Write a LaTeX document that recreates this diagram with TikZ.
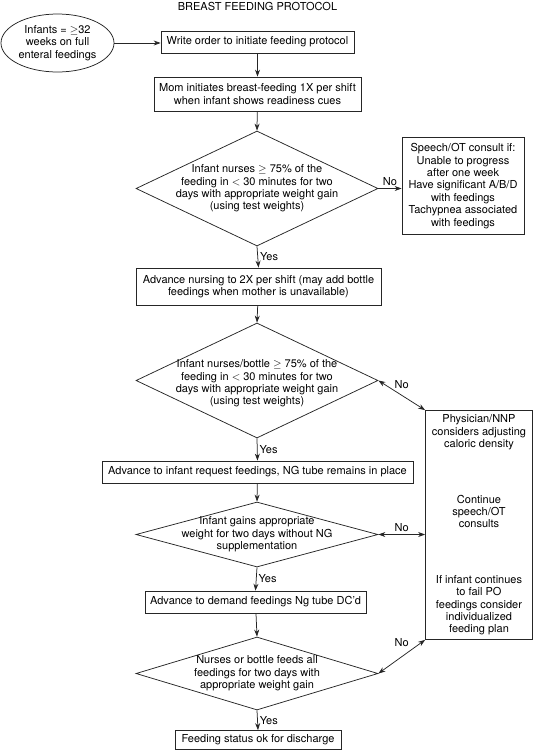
\documentclass[tikz,border=0pt]{standalone}
\usepackage{fontspec}
\setmainfont{TeX Gyre Heros}
\usetikzlibrary{arrows.meta, shapes.geometric}

\begin{document}
\begin{tikzpicture}[x=1pt, y=-1pt, >={Stealth[length=7pt,width=5pt]},
    font=\fontsize{11}{12.4}\selectfont, line width=0.75pt, draw=black!85,
    box/.style={draw, align=center, inner sep=2pt},
    decision/.style={draw, diamond, inner sep=0pt, minimum width=242pt},
    dectext/.style={align=center, inner sep=0pt},
    lbl/.style={inner sep=2pt}]

    \useasboundingbox (0,0) rectangle (534,750);

    % ==========================================================
    % main column
    % ==========================================================
    \node (title) at (257.5,6) {BREAST FEEDING PROTOCOL};

    \node[draw, ellipse, align=center, minimum width=113pt, minimum height=58pt, inner sep=0pt]
        (infants) at (57.5,43) {Infants = $\geq$32\\weeks on full\\enteral feedings};

    \node[box, minimum width=193pt, minimum height=22pt] (order) at (257.5,42)
        {Write order to initiate feeding protocol};
    \node[box, minimum width=207pt, minimum height=34pt] (mom) at (257.5,94)
        {Mom initiates breast-feeding 1X per shift\\when infant shows readiness cues};

    \node[decision, minimum height=115pt,
          label={[dectext]center:{Infant nurses $\geq$ 75\% of the\\feeding in $<$ 30 minutes for two\\days with appropriate weight gain\\(using test weights)}}]
        (nurse1) at (257,188.5) {};

    \node[box, minimum width=245pt, minimum height=37pt] (twice) at (258.5,286.5)
        {Advance nursing to 2X per shift (may add bottle\\feedings when mother is unavailable)};

    \node[decision, minimum height=115pt,
          label={[dectext, yshift=-3pt]center:{Infant nurses/bottle $\geq$ 75\% of the\\feeding in $<$ 30 minutes for two\\days with appropriate weight gain\\(using test weights)}}]
        (nurse2) at (257,380.5) {};

    \node[box, minimum width=311pt, minimum height=22pt] (request) at (257.5,472)
        {Advance to infant request feedings, NG tube remains in place};

    \node[decision, minimum height=65pt,
          label={[dectext]center:{Infant gains appropriate\\weight for two days without NG\\supplementation}}]
        (gains) at (257,534.5) {};

    \node[box, minimum width=221pt, minimum height=22pt] (demand) at (255.5,602)
        {Advance to demand feedings Ng tube DC'd};

    \node[decision, minimum height=73pt,
          label={[dectext]center:{Nurses or bottle feeds all\\feedings for two days with\\appropriate weight gain}}]
        (allfeeds) at (257,673.5) {};

    \node[box, minimum width=166pt, minimum height=19pt] (discharge) at (258,740)
        {Feeding status ok for discharge};

    % ==========================================================
    % right column
    % ==========================================================
    \node[box, minimum width=122pt, minimum height=97pt] (speech) at (463,186)
        {Speech/OT consult if:\\Unable to progress\\after one week\\Have significant A/B/D\\with feedings\\Tachypnea associated\\with feedings};

    \node[box, minimum width=107pt, minimum height=229pt] (plan) at (479,525)
        {Physician/NNP\\considers adjusting\\caloric density\\[43pt]Continue\\speech/OT\\consults\\[43pt]If infant continues\\to fail PO\\feedings consider\\individualized\\feeding plan};

    % ==========================================================
    % connectors
    % ==========================================================
    \draw[->] (infants.east) -- (infants.east -| order.west);
    \draw[->] (order) -- (mom);
    \draw[->] (mom) -- (nurse1.north);
    \draw[->] (nurse1.east) -- node[lbl, above] {No} (nurse1.east -| speech.west);
    \draw[->] (nurse1.south) -- node[lbl, right] {Yes} (twice.north);
    \draw[->] (twice) -- (nurse2.north);
    \draw[<->] (nurse2.east) -- node[lbl, above=4pt] {No} (plan.north west);
    \draw[->] (nurse2.south) -- node[lbl, right] {Yes} (request.north);
    \draw[->] (request) -- (gains.north);
    \draw[<->] (gains.east) -- node[lbl, above] {No} (gains.east -| plan.west);
    \draw[->] (gains.south) -- node[lbl, right] {Yes} (demand.north);
    \draw[->] (demand) -- (allfeeds.north);
    \draw[<->] (allfeeds.east) -- node[lbl, above=8pt] {No} (plan.south west);
    \draw[->] (allfeeds.south) -- node[lbl, right] {Yes} (discharge.north);

\end{tikzpicture}
\end{document}
